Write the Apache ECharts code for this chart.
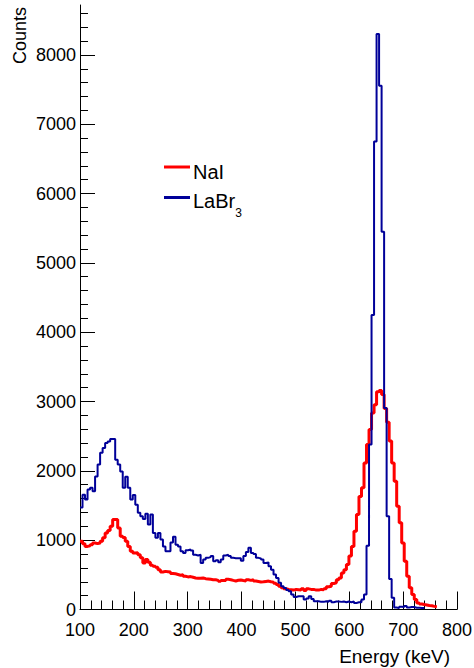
<!DOCTYPE html>
<html>
<head>
<meta charset="utf-8">
<script src="https://cdn.jsdelivr.net/npm/echarts@6/dist/echarts.min.js"></script>
<style>
html,body{margin:0;padding:0;background:#fff;}
#chart{width:474px;height:668px;}
</style>
</head>
<body>
<div id="chart"></div>
<script>
// Histogram binning (150 bins over 100–800 keV)
const binStart = 100;
const binWidth = 700 / 150;

// NaI counts per bin (starting at 100 keV)
const naiCounts = [985,950,910,920,935,960,950,960,985,1035,
  1105,1140,1200,1297,1300,1175,1055,1040,985,910,
  840,815,820,790,745,672,720,680,640,625,
  610,575,540,550,545,540,520,515,505,495,
  500,480,470,475,465,455,450,450,455,445,
  440,435,430,430,420,408,420,420,435,430,
  420,412,422,425,418,412,428,420,428,412,
  405,398,400,405,410,400,395,380,360,335,
  312,300,290,285,280,290,285,280,298,275,
  298,290,290,280,280,290,285,298,327,335,
  375,385,430,455,528,575,650,770,910,1130,
  1370,1630,1755,2115,2380,2595,2835,2955,3140,3160,
  3100,2900,2700,2430,2115,1850,1490,1250,960,695,
  480,312,215,145,95,80,72,65,58,55,
  45,40];

// LaBr3 counts per bin (starting at 100 keV)
const labrCounts = [1470,1655,1585,1730,1755,1705,1920,2090,2260,2330,
  2400,2425,2460,2460,2160,2090,1990,1755,1915,1755,
  1585,1650,1510,1395,1345,1305,1380,1225,1370,1105,
  1035,1105,1010,910,840,840,965,1050,935,910,
  840,815,855,865,850,790,780,790,672,720,
  745,755,770,695,710,680,720,780,790,770,
  745,740,740,740,705,770,830,890,815,800,
  745,735,720,672,680,625,575,505,455,385,
  335,310,280,265,215,180,190,190,190,145,
  160,190,150,120,120,110,110,120,110,125,
  105,115,115,110,115,105,115,105,115,95,
  105,105,145,215,920,2380,4250,6750,8300,7555,
  5450,2905,1345,440,170,30,20,40,35,50,
  30,35,35,25,25,20,20];

// Axis ticks
const xTicks = [100,200,300,400,500,600,700,800];
const yMajorTicks = [0,1000,2000,3000,4000,5000,6000,7000,8000];
const yMinorTicks = [200,400,600,800,1200,1400,1600,1800,2200,2400,2600,2800,
  3200,3400,3600,3800,4200,4400,4600,4800,5200,5400,5600,5800,
  6200,6400,6600,6800,7200,7400,7600,7800,8200,8400,8600];
const yMax = 8720;

const seriesNames = ['NaI', 'LaBr3'];
const seriesColors = ['#ff0000', '#000099'];

function histPoints(vals) {
  const pts = vals.map((v, i) => [binStart + i * binWidth, v]);
  pts.push([binStart + vals.length * binWidth, vals[vals.length - 1]]);
  return pts;
}

const FONT = '"Liberation Sans", Arial, Helvetica, sans-serif';
const chart = echarts.init(document.getElementById('chart'), null, {renderer: 'svg', width: 474, height: 668});

chart.setOption({
  animation: false,
  backgroundColor: '#ffffff',
  grid: {left: 80, right: 17, top: 5, bottom: 58.5, containLabel: false, outerBoundsMode: 'none'},
  xAxis: {
    type: 'value', min: xTicks[0], max: xTicks[xTicks.length - 1], interval: 100,
    axisLine: {show: true, onZero: false, lineStyle: {color: '#000', width: 1}},
    axisTick: {show: true, inside: true, length: 18, lineStyle: {color: '#000', width: 1}},
    minorTick: {show: true, splitNumber: 5, length: 9, lineStyle: {color: '#000', width: 1}},
    axisLabel: {show: true, margin: 11, fontSize: 18, color: '#000', fontFamily: FONT,
      formatter: v => String(v)},
    splitLine: {show: false}, minorSplitLine: {show: false}
  },
  yAxis: [
    {
      type: 'value', min: 0, max: yMax, interval: 1000, position: 'left',
      axisLine: {show: true, onZero: false, lineStyle: {color: '#000', width: 1}},
      axisTick: {show: true, inside: true, length: 15, customValues: yMajorTicks, lineStyle: {color: '#000', width: 1}},
      axisLabel: {show: true, margin: 4, fontSize: 18, color: '#000', fontFamily: FONT, customValues: yMajorTicks,
        formatter: v => String(v)},
      splitLine: {show: false}
    },
    {
      type: 'value', min: 0, max: yMax, interval: 200, position: 'left',
      axisLine: {show: false},
      axisTick: {show: true, inside: true, length: 8, customValues: yMinorTicks, lineStyle: {color: '#000', width: 1}},
      axisLabel: {show: false},
      splitLine: {show: false}
    }
  ],
  series: [
    {
      name: seriesNames[0], type: 'line', step: 'end', symbol: 'none', yAxisIndex: 0,
      data: histPoints(naiCounts), z: 2,
      lineStyle: {color: seriesColors[0], width: 3}
    },
    {
      name: seriesNames[1], type: 'line', step: 'end', symbol: 'none', yAxisIndex: 0,
      data: histPoints(labrCounts), z: 3,
      lineStyle: {color: seriesColors[1], width: 2}
    }
  ],
  graphic: [
    {type: 'text', x: 20, y: 7, rotation: Math.PI / 2,
      style: {text: 'Counts', fontSize: 18, fontFamily: FONT, fill: '#000', align: 'right', verticalAlign: 'middle'}},
    {type: 'text', x: 450, y: 656,
      style: {text: 'Energy (keV)', fontSize: 19, fontFamily: FONT, fill: '#000', align: 'right', verticalAlign: 'middle'}},
    {type: 'line', shape: {x1: 164, y1: 167, x2: 190, y2: 167}, style: {stroke: seriesColors[0], lineWidth: 3}},
    {type: 'text', x: 193, y: 172,
      style: {text: seriesNames[0], fontSize: 20, fontFamily: FONT, fill: '#000', align: 'left', verticalAlign: 'middle'}},
    {type: 'line', shape: {x1: 164, y1: 197.5, x2: 190, y2: 197.5}, style: {stroke: seriesColors[1], lineWidth: 3}},
    {type: 'text', x: 193, y: 201,
      style: {text: '{a|LaBr}{s|3}', fontFamily: FONT, fill: '#000', align: 'left', verticalAlign: 'middle',
        rich: {
          a: {fontSize: 20, lineHeight: 36, fontFamily: FONT, fill: '#000', verticalAlign: 'middle'},
          s: {fontSize: 12, lineHeight: 12, fontFamily: FONT, fill: '#000', verticalAlign: 'bottom'}
        }}}
  ]
});
</script>
</body>
</html>
